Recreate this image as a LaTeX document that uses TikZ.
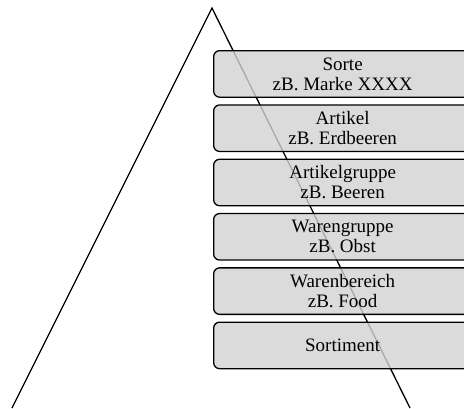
\documentclass[tikz,border=0pt]{standalone}
\usepackage{fontspec}
\setmainfont{Liberation Serif}
\usetikzlibrary{
  positioning,
}
\tikzstyle{level} = [
rectangle,
draw,
line width=1.3pt,
fill=gray!35,
fill opacity=0.8,
text opacity=1,
rounded corners=6pt,
minimum width=258pt,
minimum height=46.5pt,
inner sep=0pt,
align=center,
font=\fontsize{19}{20}\selectfont
]
\tikzstyle{side} = [draw, line width=1.3pt]

\begin{document}
\begin{tikzpicture}[x=1pt, y=-1pt, node distance=6.5pt]
  \useasboundingbox (0,0) rectangle (464,408);
  \clip (0,0) rectangle (464,408);
  % Place corners
  \coordinate (apex) at (212,8);
  \coordinate (lfoot) at (12,408);
  \coordinate (rfoot) at (410,408);

  % Draw triangle
  \path [side] (lfoot) -- (apex) -- (rfoot);

  % Place nodes
  \node [level, anchor=north west] (sorte) at (213,50) {Sorte\\zB. Marke XXXX};
  \node [level, below=of sorte] (artikel) {Artikel\\zB. Erdbeeren};
  \node [level, below=of artikel] (agruppe) {Artikelgruppe\\zB. Beeren};
  \node [level, below=of agruppe] (wgruppe) {Warengruppe\\zB. Obst};
  \node [level, below=of wgruppe] (wbereich) {Warenbereich\\zB. Food};
  \node [level, below=of wbereich] (sortiment) {Sortiment};

\end{tikzpicture}
\end{document}
